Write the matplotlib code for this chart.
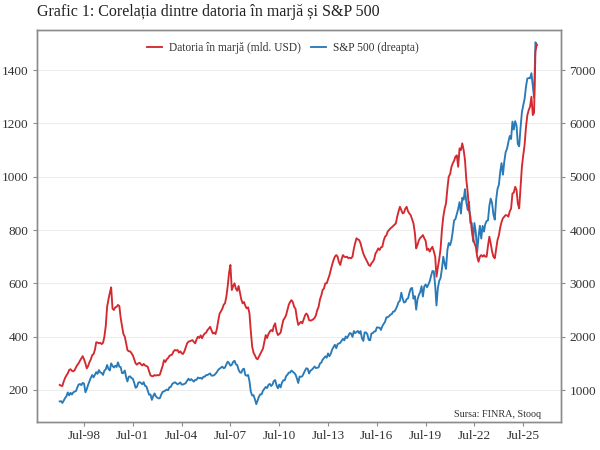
import matplotlib
matplotlib.use("Agg")
import matplotlib.pyplot as plt
import pandas as pd

START = "1997-01-01"

# margin debt, bn USD (monthly, Jan-1997 .. May-2026)
margin_debt = [
    219, 216, 215, 232, 245, 255, 262, 275, 278, 272, 270, 274,        # 1997
    285, 294, 300, 310, 318, 327, 315, 300, 281, 290, 305, 315,        # 1998
    331, 335, 350, 379, 378, 375, 377, 372, 377, 400, 440, 512,        # 1999
    540, 565, 585, 505, 500, 510, 512, 519, 515, 470, 440, 410,        # 2000
    400, 375, 350, 345, 345, 338, 330, 315, 300, 295, 300, 302,        # 2001
    296, 292, 298, 292, 290, 287, 270, 255, 252, 252, 256, 254,        # 2002
    256, 255, 258, 275, 290, 312, 305, 315, 320, 328, 331, 333,        # 2003
    345, 350, 348, 350, 340, 345, 338, 335, 345, 360, 375, 381,        # 2004
    383, 385, 387, 380, 375, 390, 400, 395, 405, 394, 405, 412,        # 2005
    415, 425, 430, 437, 425, 412, 415, 410, 430, 460, 487, 495,        # 2006
    505, 520, 525, 550, 590, 640, 669, 575, 590, 600, 580, 572,        # 2007
    590, 565, 540, 525, 530, 515, 506, 510, 487, 420, 362, 340,        # 2008
    330, 319, 315, 325, 335, 344, 355, 380, 406, 395, 410, 419,        # 2009
    425, 420, 440, 450, 420, 406, 410, 415, 440, 462, 470, 480,        # 2010
    500, 520, 530, 537, 530, 512, 505, 470, 444, 450, 456, 450,        # 2011
    465, 480, 487, 480, 462, 460, 462, 465, 470, 480, 500, 512,        # 2012
    540, 555, 575, 581, 600, 600, 615, 630, 650, 670, 687, 700,        # 2013
    706, 700, 680, 669, 690, 706, 700, 698, 700, 694, 696, 694,        # 2014
    700, 730, 750, 769, 765, 762, 750, 730, 712, 700, 690, 680,        # 2015
    669, 665, 675, 681, 690, 712, 720, 731, 725, 735, 737, 760,        # 2016
    775, 780, 794, 800, 806, 810, 815, 820, 825, 850, 870, 887,        # 2017
    875, 862, 865, 880, 887, 870, 862, 855, 840, 825, 790, 731,        # 2018
    745, 762, 770, 775, 781, 769, 760, 725, 730, 719, 730, 737,        # 2019
    720, 700, 625, 660, 690, 730, 800, 850, 880, 900, 955, 1000,       # 2020
    1010, 1037, 1050, 1060, 1075, 1080, 1037, 1106, 1100, 1125, 1100, 1062,  # 2021
    987, 940, 875, 850, 800, 770, 750, 737, 700, 681, 700, 706,        # 2022
    700, 706, 700, 700, 740, 775, 750, 720, 700, 694, 730, 762,        # 2023
    780, 810, 830, 844, 850, 856, 855, 850, 870, 880, 937, 940,        # 2024
    962, 950, 900, 881, 960, 1037, 1080, 1120, 1187, 1230, 1250, 1262, # 2025
    1300, 1231, 1240, 1470, 1495,                                      # 2026
]

# S&P 500 monthly close, same months
sp500 = [
    786, 791, 757, 801, 848, 885, 954, 899, 947, 915, 955, 970,
    980, 1049, 1102, 1112, 1091, 1134, 1121, 957, 1017, 1099, 1164, 1229,
    1280, 1238, 1286, 1335, 1302, 1373, 1329, 1320, 1283, 1363, 1389, 1469,
    1394, 1366, 1499, 1452, 1421, 1455, 1431, 1518, 1437, 1429, 1315, 1320,
    1366, 1240, 1160, 1249, 1256, 1224, 1211, 1134, 1041, 1060, 1139, 1148,
    1130, 1107, 1147, 1077, 1067, 990, 912, 916, 815, 886, 936, 880,
    856, 841, 848, 917, 964, 975, 990, 1008, 996, 1051, 1058, 1112,
    1131, 1145, 1126, 1107, 1121, 1141, 1102, 1104, 1115, 1130, 1174, 1212,
    1181, 1204, 1181, 1157, 1192, 1191, 1234, 1220, 1229, 1207, 1249, 1248,
    1280, 1281, 1295, 1311, 1270, 1270, 1277, 1304, 1336, 1378, 1401, 1418,
    1438, 1407, 1421, 1482, 1531, 1503, 1455, 1474, 1527, 1549, 1481, 1468,
    1379, 1331, 1323, 1386, 1400, 1280, 1267, 1283, 1165, 969, 896, 903,
    826, 735, 798, 873, 919, 919, 987, 1021, 1057, 1036, 1096, 1115,
    1074, 1104, 1169, 1187, 1089, 1031, 1102, 1049, 1141, 1183, 1181, 1258,
    1286, 1327, 1326, 1364, 1345, 1321, 1292, 1219, 1131, 1253, 1247, 1258,
    1312, 1366, 1408, 1398, 1310, 1362, 1379, 1407, 1441, 1412, 1416, 1426,
    1498, 1515, 1569, 1598, 1631, 1606, 1686, 1633, 1682, 1757, 1806, 1848,
    1783, 1859, 1872, 1884, 1924, 1960, 1931, 2003, 1972, 2018, 2068, 2059,
    1995, 2105, 2068, 2086, 2107, 2063, 2104, 1972, 1920, 2079, 2080, 2044,
    1940, 1932, 2060, 2065, 2097, 2099, 2174, 2171, 2168, 2126, 2199, 2239,
    2279, 2364, 2363, 2384, 2412, 2423, 2470, 2472, 2519, 2575, 2648, 2674,
    2824, 2714, 2641, 2648, 2705, 2718, 2816, 2902, 2914, 2712, 2760, 2507,
    2704, 2784, 2834, 2946, 2752, 2942, 2980, 2926, 2977, 3038, 3141, 3231,
    3226, 2954, 2585, 2912, 3044, 3100, 3271, 3500, 3363, 3270, 3622, 3756,
    3714, 3811, 3973, 4181, 4204, 4298, 4395, 4523, 4308, 4605, 4567, 4766,
    4516, 4374, 4530, 4132, 4132, 3785, 4130, 3955, 3586, 3872, 4080, 3840,
    4077, 3970, 4109, 4169, 4180, 4450, 4589, 4508, 4288, 4194, 4568, 4770,
    4846, 5096, 5254, 5036, 5278, 5460, 5522, 5648, 5762, 5705, 6032, 5882,
    6041, 5955, 5612, 5569, 5912, 6205, 6339, 6460, 6688, 6840, 6849, 6845,
    6940, 6700, 6480, 7520, 7470,
]

tick_dates = ["1998-07-01", "2001-07-01", "2004-07-01", "2007-07-01", "2010-07-01",
              "2013-07-01", "2016-07-01", "2019-07-01", "2022-07-01", "2025-07-01"]
tick_labels = ["Jul-98", "Jul-01", "Jul-04", "Jul-07", "Jul-10",
               "Jul-13", "Jul-16", "Jul-19", "Jul-22", "Jul-25"]
left_ticks = [200, 400, 600, 800, 1000, 1200, 1400]
right_ticks = [1000, 2000, 3000, 4000, 5000, 6000, 7000]

RED = "#d42a2f"
BLUE = "#2a7ab8"
FRAME = "#8c8c8c"
GRID = "#ececec"
TXT = "#333333"

plt.rcParams["font.family"] = ["Liberation Serif", "DejaVu Serif"]

dates = pd.date_range(START, periods=len(margin_debt), freq="MS")

fig = plt.figure(figsize=(6, 4.5), dpi=100)
ax = fig.add_axes([37 / 600, 1 - 422 / 450, (561 - 37) / 600, (422 - 30) / 450])
ax2 = ax.twinx()

l2, = ax2.plot(dates, sp500, color=BLUE, lw=1.35, label="S&P 500 (dreapta)")
l1, = ax.plot(dates, margin_debt, color=RED, lw=1.35, label="Datoria în marjă (mld. USD)")
# red on top of blue
ax.set_zorder(ax2.get_zorder() + 1)
ax.patch.set_visible(False)
ax2.set_facecolor("white")

ax.set_xlim(pd.Timestamp("1995-08-10"), pd.Timestamp("2027-10-27"))
ax.set_ylim(80, 1550)
ax2.set_ylim(400, 7750)

ax.set_xticks(pd.to_datetime(tick_dates))
ax.set_xticklabels(tick_labels)
ax.set_yticks(left_ticks)
ax2.set_yticks(right_ticks)

ax2.grid(True, color=GRID, lw=0.7)
ax2.set_axisbelow(True)
ax2.xaxis.grid(True, color=GRID, lw=0.7)

for a in (ax, ax2):
    for s in a.spines.values():
        s.set_color(FRAME)
        s.set_linewidth(1.0)
    a.tick_params(colors=FRAME, labelcolor=TXT, labelsize=9.5, length=3, width=0.8, pad=3)

fig.text(37 / 600, 1 - 12 / 450, "Grafic 1: Corelația dintre datoria în marjă și S&P 500",
         fontsize=11.5, color="#222222", ha="left", va="center")

fig.legend(handles=[l1, l2], loc="center", bbox_to_anchor=(283 / 600, 1 - 48 / 450),
           ncol=2, frameon=False, fontsize=8.3, handlelength=1.3, columnspacing=0.9,
           handletextpad=0.6, labelcolor=TXT)

ax.text(0.962, 0.008, "Sursa: FINRA, Stooq", transform=ax.transAxes,
        ha="right", va="bottom", fontsize=7.3, color=TXT)

fig.savefig("out.png", dpi=100)
